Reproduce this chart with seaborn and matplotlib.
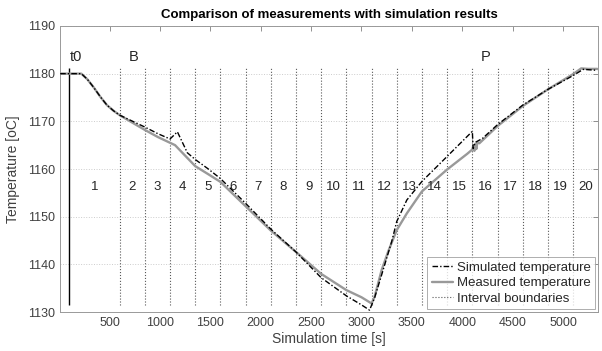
import numpy as np
import pandas as pd
import matplotlib
matplotlib.use("Agg")
import matplotlib.pyplot as plt
import seaborn as sns

# measured temperature
meas_t = [10, 220, 280, 343, 410, 474, 540, 600, 720, 850, 980, 1100, 1150,
          1250, 1350, 1480, 1600, 1850, 2100, 2350, 2600, 2850, 3000, 3100,
          3130, 3160, 3200, 3265, 3350, 3450, 3600, 3850, 4050, 4100, 4110,
          4120, 4130, 4140, 4150, 4170, 4200, 4350, 4600, 4850, 5100, 5180,
          5250, 5340]
meas_T = [1180.0, 1180.0, 1178.8, 1177.1, 1175.1, 1173.4, 1172.2, 1171.3,
          1169.8, 1168.2, 1166.7, 1165.5, 1165.0, 1162.8, 1160.6, 1158.9,
          1157.3, 1152.2, 1147.1, 1142.6, 1138.0, 1134.6, 1133.1, 1131.8,
          1133.2, 1135.6, 1138.8, 1142.7, 1147.2, 1150.7, 1155.3, 1159.9,
          1163.2, 1164.1, 1164.9, 1163.8, 1165.3, 1164.2, 1165.6, 1165.4,
          1166.0, 1169.0, 1173.2, 1176.7, 1179.9, 1181.1, 1181.0, 1181.0]

# simulated temperature
sim_t = [10, 220, 280, 343, 410, 474, 540, 600, 720, 850, 980, 1100, 1173,
         1272, 1350, 1480, 1600, 1850, 2100, 2350, 2600, 2850, 3000,
         3080, 3130, 3200, 3300, 3350, 3450, 3600, 3810, 4000, 4100, 4108,
         4130, 4200, 4350, 4600, 4850, 5100, 5200, 5340]
sim_T = [1180.0, 1180.0, 1178.8, 1177.1, 1175.1, 1173.4, 1172.2, 1171.3,
         1170.1, 1168.8, 1167.4, 1166.3, 1167.8, 1163.4, 1162.0, 1160.0,
         1158.0, 1152.8, 1147.4, 1142.6, 1137.2, 1133.4, 1131.5,
         1130.4, 1133.0, 1137.8, 1144.8, 1149.0, 1153.5, 1157.4, 1161.8,
         1165.8, 1167.9, 1164.3, 1165.6, 1166.4, 1169.3, 1173.4, 1176.7,
         1179.6, 1180.9, 1180.7]

t0 = 100
boundaries = [600, 850, 1100, 1350, 1600, 1850, 2100, 2350, 2600, 2850, 3100,
              3350, 3600, 3850, 4100, 4350, 4600, 4850, 5100]
interval_labels = [str(i) for i in range(1, 21)]
markers = {"t0": 100, "B": 690, "P": 4180}

sns.set_style("white")
plt.rcParams["font.family"] = ["Liberation Sans", "DejaVu Sans"]

fig, ax = plt.subplots(figsize=(6.02, 3.51), dpi=100)
fig.subplots_adjust(left=0.1, right=0.993, top=0.926, bottom=0.111)

ax.yaxis.grid(True, linestyle=":", color="0.8", linewidth=0.7)

sim_df = pd.DataFrame({"t": sim_t, "T": sim_T})
meas_df = pd.DataFrame({"t": meas_t, "T": meas_T})

sns.lineplot(data=sim_df, x="t", y="T", ax=ax, color="black", linewidth=1.0,
             linestyle=(0, (4, 1.5, 1, 1.5)), label="Simulated temperature",
             zorder=4)
sns.lineplot(data=meas_df, x="t", y="T", ax=ax, color="0.6", linewidth=1.7,
             label="Measured temperature", zorder=3)

ymin_line, ymax_line = 1131.5, 1181.2
ax.vlines(t0, ymin_line, ymax_line, color="black", linewidth=1.0, zorder=2)
ax.vlines(boundaries, ymin_line, ymax_line, color="0.35", linewidth=0.8,
          linestyle=":", label="Interval boundaries", zorder=2)

# interval numbers, centred between boundaries
edges = [t0] + boundaries + [5340]
for i, lab in enumerate(interval_labels):
    xc = (edges[i] + edges[i + 1]) / 2
    ax.text(xc, 1156.2, lab, ha="center", va="center", fontsize=9.5,
            color="0.15")

for lab, xt in markers.items():
    ax.text(xt, 1183.4, lab, ha="left", va="center", fontsize=10.5,
            color="0.15")

ax.set_xlim(10, 5345)
ax.set_ylim(1130, 1190)
ax.set_xticks(range(500, 5001, 500))
ax.set_yticks(range(1130, 1191, 10))
ax.tick_params(direction="in", top=True, right=True, length=3.5,
               width=0.6, color="0.5", labelsize=9, labelcolor="0.25")
for s in ax.spines.values():
    s.set_color("0.6")
    s.set_linewidth(0.7)

ax.set_title("Comparison of measurements with simulation results",
             fontsize=9.5, fontweight="bold", color="black", pad=6)
ax.set_xlabel("Simulation time [s]", fontsize=10, color="0.25", labelpad=2)
ax.set_ylabel("Temperature [oC]", fontsize=10, color="0.25", labelpad=6)

leg = ax.legend(loc="lower right", fontsize=9.5, frameon=True, fancybox=False,
                borderaxespad=0.2, handlelength=1.6, handletextpad=0.3,
                labelspacing=0.25, borderpad=0.35)
leg.get_frame().set_edgecolor("0.6")
leg.get_frame().set_linewidth(0.7)
for txt in leg.get_texts():
    txt.set_color("0.15")

fig.savefig("out.png", dpi=100)
